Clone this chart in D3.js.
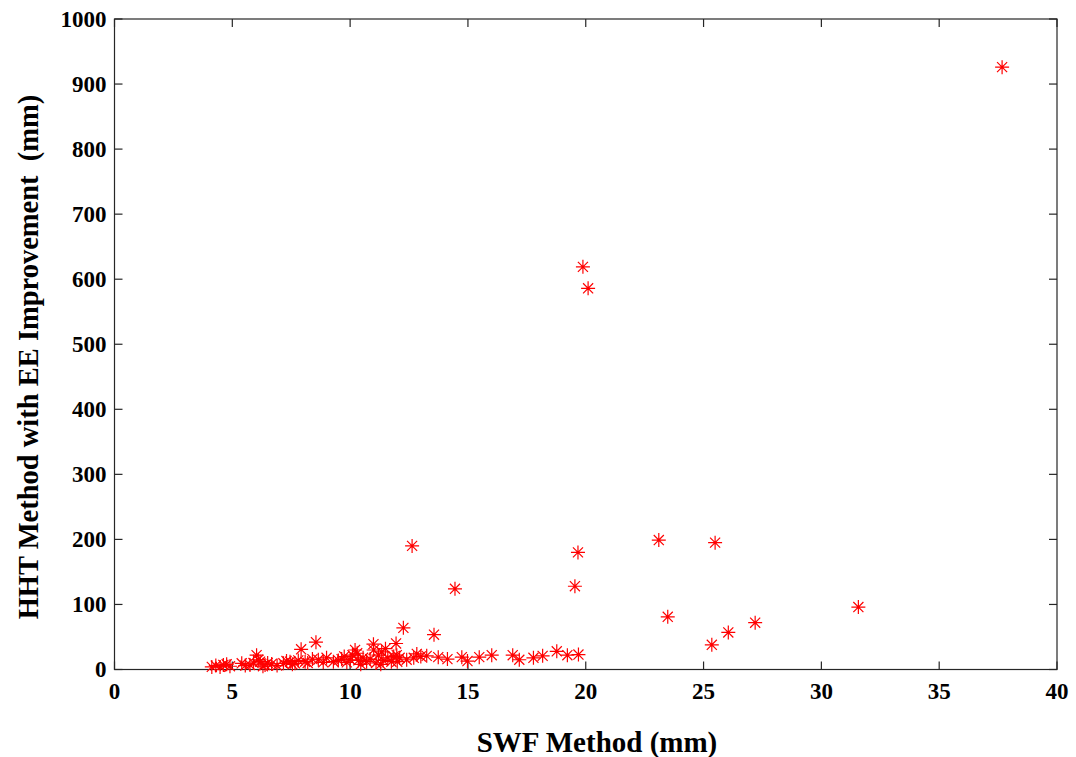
<!DOCTYPE html>
<html><head><meta charset="utf-8">
<script src="https://cdn.jsdelivr.net/npm/d3@7"></script>
<style>body{margin:0;background:#fff}</style>
</head><body>
<svg id="c" width="1076" height="757"></svg>
<script>
const xTicks = [0,5,10,15,20,25,30,35,40];
const yTicks = [0,100,200,300,400,500,600,700,800,900,1000];
const swf = [4.13,4.3,4.48,4.62,4.76,4.9,5.4,5.55,5.75,5.9,6.03,6.1,6.18,6.3,6.39,6.5,6.67,6.9,7.17,7.3,7.45,7.55,7.66,7.8,7.92,8.09,8.2,8.4,8.55,8.65,8.86,9.0,9.29,9.5,9.64,9.75,9.86,10.0,10.1,10.21,10.35,10.45,10.55,10.7,10.85,10.99,11.1,11.2,11.34,11.4,11.5,11.6,11.75,11.85,11.95,11.98,12.1,12.26,12.4,12.63,12.83,13.0,13.25,13.56,13.74,14.13,14.45,14.74,14.98,15.48,16.01,16.9,17.18,17.78,18.17,18.77,19.22,19.54,19.67,19.69,19.88,20.1,23.1,23.48,25.35,25.49,26.05,27.19,31.57,37.67,10.3,11.0,11.3,12.0,12.7];
const hht = [4,6,4,7,8,5,9.5,6,7,10,22,15,12,5,7,10,8.5,6,9.5,13,12,8,9.5,14,31,12,10,16,42,15,11,18,12,14,16,20,11,15,22,30,14,8,18,12,16,39,10,22,27,14,32,18,12,20,40,22,18,64,15,190,24,20,21,53.5,19,16,124,19,13,19,22,22,15,18,21,28,22,128,180,23,619,586,199,81,38,195,57,72,96,926,25,30,8,12,18];

const svg = d3.select('#c');
const L=114.5,R=1057,T=19,B=669.5;
const x = d3.scaleLinear().domain([0,40]).range([L,R]);
const y = d3.scaleLinear().domain([0,1000]).range([B,T]);
const font = '"Liberation Serif","Times New Roman",serif';

svg.append('rect').attr('x',L).attr('y',T).attr('width',R-L).attr('height',B-T)
  .attr('fill','none').attr('stroke','#262626').attr('stroke-width',1.2);

const tl=8;
const g = svg.append('g').attr('stroke','#262626').attr('stroke-width',1.2);
xTicks.forEach(v=>{
  g.append('line').attr('x1',x(v)).attr('x2',x(v)).attr('y1',B).attr('y2',B-tl);
  g.append('line').attr('x1',x(v)).attr('x2',x(v)).attr('y1',T).attr('y2',T+tl);
});
yTicks.forEach(v=>{
  g.append('line').attr('y1',y(v)).attr('y2',y(v)).attr('x1',L).attr('x2',L+tl);
  g.append('line').attr('y1',y(v)).attr('y2',y(v)).attr('x1',R).attr('x2',R-tl);
});

svg.append('g').selectAll('text').data(xTicks).join('text')
  .attr('x',d=>x(d)).attr('y',B+29).attr('text-anchor','middle')
  .attr('font-family',font).attr('font-weight','bold').attr('font-size',23).text(d=>d);
svg.append('g').selectAll('text').data(yTicks).join('text')
  .attr('x',L-8).attr('y',d=>y(d)+7.5).attr('text-anchor','end')
  .attr('font-family',font).attr('font-weight','bold').attr('font-size',23).text(d=>d);

svg.append('text').attr('x',597).attr('y',752).attr('text-anchor','middle')
  .attr('font-family',font).attr('font-weight','bold').attr('font-size',29).text('SWF Method (mm)');
svg.append('text').attr('transform',`translate(38,357) rotate(-90)`).attr('text-anchor','middle')
  .attr('font-family',font).attr('font-weight','bold').attr('font-size',28.5).attr('xml:space','preserve')
  .text('HHT Method with EE Improvement  (mm)');

const pts = swf.map((v,i)=>[v,hht[i]]);
const r=7, d2=r*0.72;
const m = svg.append('g').attr('stroke','#ff0000').attr('stroke-width',1.2).attr('fill','none');
pts.forEach(([a,b])=>{
  const cx=x(a), cy=y(b);
  m.append('path').attr('d',`M${cx-r},${cy}H${cx+r}M${cx},${cy-r}V${cy+r}M${cx-d2},${cy-d2}L${cx+d2},${cy+d2}M${cx-d2},${cy+d2}L${cx+d2},${cy-d2}`);
});
</script>
</body></html>
